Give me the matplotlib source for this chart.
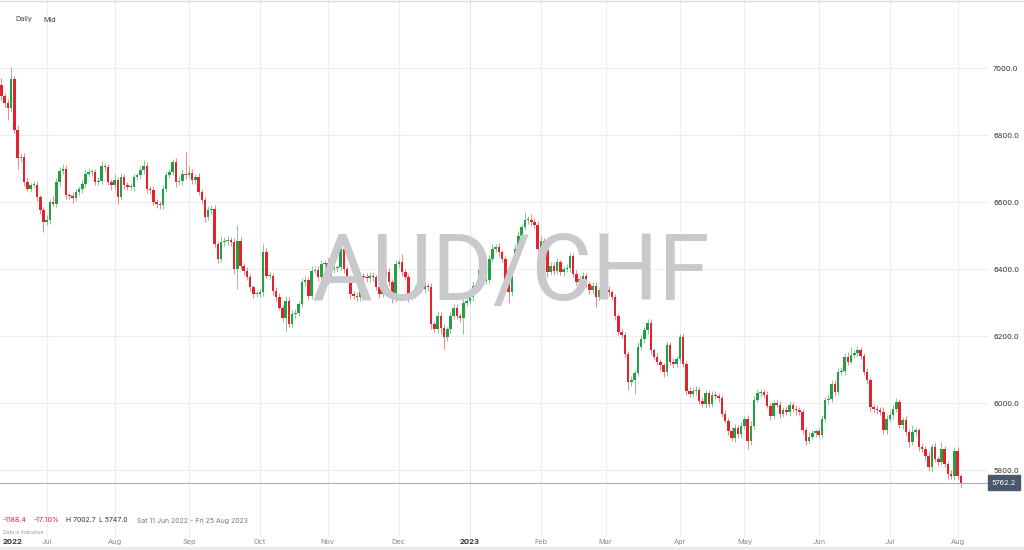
import numpy as np
import pandas as pd
import matplotlib
matplotlib.use("Agg")
import matplotlib.pyplot as plt
from matplotlib.transforms import blended_transform_factory
from matplotlib.patches import Rectangle
from matplotlib.lines import Line2D

plt.rcParams['font.family'] = ['Inter', 'DejaVu Sans']

# AUD/CHF daily candles, Mon 13 Jun 2022 -> Wed 2 Aug 2023 (open of each day = previous close)
start_date = "2022-06-13"
first_open = 6950.6
closes = [
    6915, 6895, 6880, 6968, 6815, 6730, 6735, 6660, 6640, 6650,
    6652, 6614, 6575, 6540, 6545, 6600, 6595, 6660, 6694, 6700,
    6620, 6618, 6612, 6630, 6640, 6655, 6685, 6690, 6690, 6660,
    6662, 6706, 6705, 6660, 6650, 6665, 6615, 6675, 6650, 6645,
    6645, 6675, 6680, 6695, 6708, 6640, 6635, 6600, 6595, 6590,
    6640, 6680, 6690, 6718, 6660, 6664, 6685, 6680, 6688, 6665,
    6675, 6630, 6605, 6555, 6575, 6580, 6475, 6430, 6480, 6485,
    6488, 6480, 6400, 6485, 6410, 6395, 6375, 6345, 6325, 6325,
    6330, 6450, 6380, 6380, 6335, 6315, 6285, 6255, 6305, 6235,
    6265, 6270, 6295, 6360, 6368, 6320, 6395, 6398, 6375, 6415,
    6418, 6365, 6400, 6402, 6405, 6460, 6400, 6375, 6325, 6320,
    6315, 6380, 6375, 6372, 6380, 6375, 6345, 6325, 6385, 6390,
    6360, 6310, 6415, 6420, 6390, 6376, 6316, 6320, 6340, 6350,
    6340, 6350, 6345, 6235, 6221, 6260, 6225, 6196, 6220, 6260,
    6285, 6260, 6255, 6300, 6303, 6315, 6350, 6352, 6396, 6365,
    6368, 6430, 6460, 6465, 6450, 6430, 6360, 6330, 6410, 6460,
    6500, 6525, 6545, 6547, 6540, 6532, 6461, 6485, 6456, 6391,
    6410, 6393, 6420, 6392, 6400, 6404, 6440, 6385, 6362, 6370,
    6378, 6355, 6336, 6350, 6316, 6336, 6345, 6336, 6330, 6315,
    6260, 6212, 6202, 6147, 6062, 6070, 6090, 6167, 6192, 6217,
    6240, 6157, 6137, 6122, 6112, 6092, 6172, 6122, 6117, 6130,
    6197, 6117, 6037, 6027, 6037, 6040, 6007, 5997, 6030, 5997,
    6025, 6022, 6015, 5967, 5947, 5917, 5897, 5925, 5907, 5930,
    5952, 5887, 5932, 6010, 6030, 6033, 6025, 5992, 5962, 6000,
    5995, 5967, 5980, 5973, 5995, 5983, 5978, 5973, 5918, 5888,
    5900, 5910, 5915, 5905, 5953, 6008, 6012, 6058, 6033, 6093,
    6096, 6138, 6123, 6143, 6148, 6158, 6140, 6093, 6068, 5988,
    5983, 5978, 5973, 5918, 5953, 5963, 5983, 6003, 5933, 5948,
    5913, 5883, 5913, 5918, 5868, 5863, 5843, 5808, 5868, 5833,
    5823, 5863, 5818, 5788, 5783, 5858, 5783, 5762.2,
]
# wick lengths above / below the body
wick_up = [
    20, 10, 12, 34.7, 8, 15, 12, 10, 14, 8,
    12, 10, 8, 10, 15, 10, 18, 12, 10, 14,
    10, 8, 12, 10, 8, 10, 14, 12, 10, 8,
    12, 16, 10, 8, 10, 18, 10, 12, 8, 10,
    12, 10, 8, 12, 16, 10, 8, 12, 10, 8,
    10, 12, 10, 11, 12, 10, 14, 65, 20, 12,
    10, 12, 8, 10, 14, 10, 12, 10, 18, 12,
    10, 8, 12, 45, 10, 8, 12, 10, 8, 12,
    10, 25, 12, 10, 8, 10, 12, 8, 14, 10,
    12, 10, 8, 12, 10, 8, 14, 12, 10, 12,
    10, 14, 12, 10, 8, 12, 18, 10, 8, 10,
    12, 10, 8, 14, 10, 12, 8, 10, 12, 10,
    14, 10, 12, 10, 25, 10, 8, 10, 12, 10,
    12, 10, 8, 12, 10, 14, 12, 10, 8, 12,
    10, 12, 8, 10, 12, 10, 14, 10, 12, 10,
    8, 12, 14, 10, 12, 8, 10, 12, 10, 14,
    12, 10, 25, 10, 18, 12, 10, 14, 8, 10,
    12, 10, 14, 8, 10, 12, 10, 8, 12, 10,
    12, 10, 8, 12, 10, 8, 14, 10, 12, 8,
    10, 8, 12, 10, 8, 12, 10, 14, 12, 10,
    12, 10, 8, 12, 10, 8, 14, 10, 12, 10,
    10, 12, 8, 10, 12, 10, 8, 12, 10, 8,
    12, 10, 8, 10, 12, 8, 10, 12, 10, 14,
    10, 12, 14, 10, 12, 8, 10, 12, 8, 10,
    12, 10, 8, 12, 10, 8, 12, 10, 8, 10,
    12, 10, 8, 10, 12, 10, 14, 10, 12, 10,
    12, 10, 14, 25, 10, 12, 8, 10, 12, 10,
    8, 12, 10, 14, 10, 12, 10, 12, 8, 10,
    12, 10, 20, 10, 8, 12, 10, 14, 10, 12,
    10, 20, 10, 8, 12, 10, 12, 6,
]
wick_dn = [
    10, 12, 35, 12, 10, 30, 10, 12, 8, 10,
    8, 12, 10, 31, 10, 12, 8, 10, 12, 10,
    12, 10, 14, 8, 10, 12, 10, 8, 12, 10,
    10, 8, 12, 10, 14, 10, 20, 10, 12, 8,
    10, 12, 8, 10, 12, 14, 10, 8, 12, 10,
    12, 10, 8, 10, 14, 10, 12, 10, 8, 12,
    10, 8, 12, 14, 10, 12, 10, 12, 8, 10,
    12, 10, 14, 60, 10, 12, 8, 10, 12, 8,
    10, 12, 8, 10, 12, 10, 8, 12, 40, 10,
    8, 12, 10, 8, 12, 14, 10, 8, 12, 10,
    12, 10, 8, 12, 10, 8, 12, 10, 14, 10,
    12, 10, 8, 10, 12, 10, 8, 12, 10, 8,
    10, 12, 8, 10, 12, 10, 14, 10, 8, 12,
    10, 12, 10, 14, 10, 12, 18, 35, 10, 12,
    8, 10, 12, 49, 10, 8, 12, 10, 8, 12,
    10, 12, 8, 10, 12, 10, 14, 30, 10, 8,
    10, 12, 8, 10, 12, 10, 8, 12, 10, 14,
    10, 12, 8, 10, 14, 10, 12, 8, 10, 12,
    8, 10, 12, 10, 30, 10, 8, 12, 10, 8,
    12, 10, 8, 12, 22, 10, 43, 10, 8, 12,
    10, 12, 8, 10, 12, 14, 10, 8, 12, 10,
    12, 10, 12, 10, 8, 12, 10, 8, 12, 10,
    8, 10, 12, 10, 8, 12, 10, 14, 10, 12,
    8, 25, 12, 10, 8, 12, 10, 8, 12, 10,
    8, 12, 10, 8, 12, 10, 14, 10, 12, 14,
    10, 8, 12, 10, 8, 10, 12, 8, 12, 10,
    8, 12, 10, 8, 10, 12, 8, 10, 12, 14,
    10, 12, 8, 12, 10, 8, 12, 10, 8, 12,
    10, 14, 8, 12, 10, 8, 12, 10, 14, 10,
    12, 8, 10, 14, 10, 12, 10, 15.2,
]
price_ticks = [5800, 6000, 6200, 6400, 6600, 6800, 7000]
month_names = ['Jul', 'Aug', 'Sep', 'Oct', 'Nov', 'Dec', '2023',
               'Feb', 'Mar', 'Apr', 'May', 'Jun', 'Jul', 'Aug']

closes = np.array(closes, dtype=float)
opens = np.concatenate([[first_open], closes[:-1]])
highs = np.maximum(opens, closes) + np.array(wick_up)
lows = np.minimum(opens, closes) - np.array(wick_dn)
dates = pd.bdate_range(start_date, periods=len(closes))
idx = np.arange(len(closes))

GREEN = '#22a046'
RED = '#e5222c'
up = closes >= opens
colors = np.where(up, GREEN, RED)

W, H = 1024, 550
fig = plt.figure(figsize=(W / 100, H / 100), dpi=100)
ax = fig.add_axes([0, 0, 988 / W, 1])
ax.set_xlim(-0.46, 305.4)
ax.set_ylim(5561.2, 7203)
for s in ax.spines.values():
    s.set_visible(False)

# grid
for p in price_ticks:
    ax.axhline(p, color='#eeeeee', lw=0.8, zorder=0)
month_starts = [i for i in range(1, len(dates)) if dates[i].month != dates[i - 1].month]
for i, name in zip(month_starts, month_names):
    ax.axvline(i, ymin=14 / H, color='#e3e3e3' if name == '2023' else '#eeeeee',
               lw=0.8, zorder=0)

# watermark
fig.text(511 / W, 1 - 274 / H, 'AUD/CHF', fontsize=67, color='#c8c8cd',
         ha='center', va='center', family=['Roboto', 'DejaVu Sans'], zorder=0)

# candles
ax.vlines(idx, lows, highs, colors=colors, lw=0.7, alpha=0.55, zorder=2)
body = np.maximum(np.abs(closes - opens), 3)
ax.bar(idx, body, bottom=np.minimum(opens, closes), width=0.78,
       color=colors, linewidth=0, zorder=3)

# last price line and tag
last = closes[-1]
ax.axhline(last, color='#aab1c0', lw=0.8, zorder=4)
y_last = ax.transData.transform((0, last))[1]
fig.add_artist(Rectangle((988 / W, (y_last - 7.5) / H), 32 / W, 15 / H,
                         transform=fig.transFigure, color='#4a586b', zorder=5))
fig.text(1004 / W, y_last / H, f'{last:.1f}', color='white', fontsize=5.3,
         ha='center', va='center', zorder=6)

# right price axis
ax.set_xticks([])
ax.yaxis.tick_right()
ax.set_yticks(price_ticks)
ax.set_yticklabels([f'{p:.1f}' for p in price_ticks])
ax.tick_params(axis='y', length=0, pad=3.6, labelsize=5.4, labelcolor='#333333')

# month labels
trans = blended_transform_factory(ax.transData, fig.transFigure)
for i, name in zip(month_starts, month_names):
    bold = name == '2023'
    ax.text(i, 1 - 542 / H, name, transform=trans, ha='center', va='center',
            fontsize=5.6 if bold else 5.3, color='#333333' if bold else '#8a8a8a',
            fontweight='bold' if bold else 'normal')
fig.text(3 / W, 1 - 542 / H, '2022', fontsize=5.6, fontweight='bold',
         color='#333333', ha='left', va='center')

# header
fig.text(15 / W, 1 - 19.5 / H, 'Daily', fontsize=5.2, color='#444444', va='center')
fig.text(43 / W, 1 - 19.5 / H, 'Mid', fontsize=5.2, color='#444444', va='center')
fig.add_artist(Line2D([0, 1], [1 - 0.5 / H, 1 - 0.5 / H], color='#dddddd', lw=1))

# summary line
change = last - first_open
pct = change / first_open * 100
ys = 1 - 520.5 / H
fig.text(3 / W, ys, f'{change:.1f}', fontsize=5, color='#e5222c', va='center')
fig.text(34 / W, ys, f'{pct:.2f}%', fontsize=5, color='#e5222c', va='center')
fig.text(66 / W, ys, f'H {highs.max():.1f}', fontsize=5, color='#333333', va='center')
fig.text(99 / W, ys, f'L {lows.min():.1f}', fontsize=5, color='#333333', va='center')
fig.text(137 / W, ys, 'Sat 11 Jun 2022 - Fri 25 Aug 2023', fontsize=5,
         color='#777777', va='center')
fig.text(3 / W, 1 - 532 / H, 'Data is indicative', fontsize=3.6, color='#999999',
         va='center')

# bottom strip
fig.add_artist(Rectangle((0, 0), 1, 3 / H, transform=fig.transFigure,
                         color='#ececec', zorder=1))

fig.savefig('out.png', dpi=100)
